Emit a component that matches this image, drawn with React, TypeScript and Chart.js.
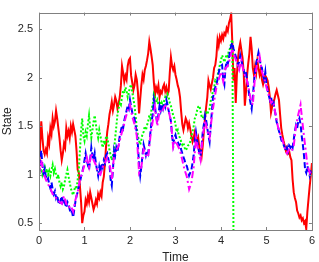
import React, { useEffect, useRef } from "react";
import { Chart, registerables } from "chart.js";

Chart.register(...registerables);

// time grids (fine grid for red/blue/green, coarse grid for magenta)
const FINE_STEP = 0.025;
const COARSE_STEP = 0.05;

const RED = [
  1.00, 1.30, 1.55, 1.38, 1.25, 1.21, 1.26, 1.22, 1.38, 1.32, 1.48, 1.42, 1.58, 1.50, 1.55, 1.66, 1.58, 1.48, 1.38, 1.25,
  1.15, 1.22, 1.32, 1.28, 1.48, 1.40, 1.45, 1.38, 1.50, 1.44, 1.52, 1.46, 1.40, 1.25, 1.05, 1.02, 0.88, 0.72, 0.50, 0.58,
  0.62, 0.74, 0.70, 0.78, 0.72, 0.82, 0.76, 0.70, 0.64, 0.68, 0.74, 0.70, 0.80, 0.76, 0.82, 0.78, 0.92, 0.98, 1.12, 1.30,
  1.44, 1.52, 1.62, 1.68, 1.75, 1.66, 1.72, 1.80, 1.76, 1.68, 1.73, 1.80, 1.92, 2.12, 2.05, 1.96, 2.02, 1.98, 2.12, 2.18,
  2.20, 2.02, 1.95, 1.87, 1.92, 2.03, 1.98, 1.85, 1.63, 1.78, 1.92, 2.03, 1.98, 2.08, 2.12, 2.18, 2.25, 2.37, 2.30, 2.22,
  2.13, 1.95, 1.82, 1.90, 1.86, 1.92, 1.80, 1.86, 1.84, 1.90, 1.93, 1.86, 1.90, 1.83, 1.86, 2.05, 2.21, 2.12, 2.08, 2.12,
  2.03, 1.98, 1.92, 1.88, 1.80, 1.65, 1.52, 1.46, 1.52, 1.58, 1.55, 1.48, 1.53, 1.47, 1.40, 1.34, 1.38, 1.44, 1.40, 1.34,
  1.38, 1.28, 1.25, 1.19, 1.30, 1.45, 1.58, 1.70, 1.80, 1.97, 1.92, 1.88, 1.94, 2.00, 2.10, 2.13, 2.22, 2.39, 2.33, 2.42,
  2.38, 2.44, 2.40, 2.46, 2.44, 2.51, 2.48, 2.56, 2.60, 2.66, 2.36, 1.97, 2.10, 1.74, 2.03, 2.20, 2.30, 2.36, 2.28, 2.20,
  2.05, 1.71, 1.85, 2.03, 2.15, 2.25, 2.42, 2.30, 2.10, 2.03, 2.12, 2.05, 2.17, 2.10, 2.03, 2.08, 1.98, 1.93, 1.98, 2.02,
  2.00, 1.97, 1.90, 1.80, 1.64, 1.70, 1.74, 1.78, 1.83, 1.87, 1.82, 1.77, 1.62, 1.48, 1.41, 1.35, 1.30, 1.25, 1.28, 1.22,
  1.24, 1.18, 1.15, 0.95, 0.82, 0.76, 0.72, 0.63, 0.60, 0.56, 0.58, 0.53, 0.55, 0.50, 0.52, 0.44, 0.62, 0.75, 0.88, 0.99,
  1.12,
];

const BLUE = [
  1.00, 1.12, 1.25, 1.10, 1.02, 1.06, 0.98, 0.94, 0.96, 0.90, 0.86, 0.92, 0.85, 0.80, 0.83, 0.76, 0.79, 0.72, 0.69, 0.74,
  0.78, 0.72, 0.75, 0.70, 0.66, 0.72, 0.70, 0.64, 0.60, 0.62, 0.56, 0.64, 0.72, 0.78, 0.82, 0.88, 0.92, 0.98, 1.02, 1.08,
  1.15, 1.22, 1.15, 1.10, 1.05, 1.16, 1.28, 1.20, 1.15, 1.22, 1.12, 1.05, 0.99, 1.08, 1.02, 1.12, 1.08, 1.15, 1.12, 1.20,
  1.22, 1.16, 1.10, 0.95, 0.89, 1.05, 1.25, 1.20, 1.28, 1.24, 1.31, 1.40, 1.45, 1.51, 1.48, 1.56, 1.61, 1.66, 1.71, 1.68,
  1.77, 1.70, 1.64, 1.60, 1.58, 1.50, 1.44, 1.30, 1.10, 0.99, 1.08, 1.20, 1.31, 1.26, 1.20, 1.25, 1.22, 1.32, 1.44, 1.55,
  1.62, 1.77, 1.70, 1.60, 1.54, 1.62, 1.71, 1.66, 1.72, 1.68, 1.74, 1.70, 1.77, 1.72, 1.66, 1.61, 1.55, 1.40, 1.31, 1.38,
  1.41, 1.36, 1.34, 1.30, 1.31, 1.26, 1.22, 1.18, 1.15, 1.10, 1.09, 1.04, 0.99, 1.02, 1.05, 1.12, 1.20, 1.35, 1.44, 1.36,
  1.28, 1.22, 1.19, 1.30, 1.44, 1.52, 1.61, 1.56, 1.48, 1.40, 1.34, 1.50, 1.65, 1.80, 1.84, 1.90, 1.93, 1.98, 2.05, 2.10,
  2.12, 2.13, 1.98, 1.93, 2.10, 2.17, 2.14, 2.20, 2.28, 2.33, 2.36, 2.30, 2.26, 2.22, 2.18, 2.13, 2.16, 2.23, 2.18, 2.12,
  2.08, 2.03, 2.06, 1.97, 1.90, 1.80, 1.74, 1.68, 1.80, 1.95, 2.07, 2.15, 2.20, 2.26, 2.20, 2.12, 2.10, 2.02, 1.98, 2.06,
  1.93, 1.87, 1.82, 1.77, 1.80, 1.74, 1.77, 1.68, 1.62, 1.54, 1.50, 1.45, 1.41, 1.36, 1.33, 1.31, 1.28, 1.25, 1.28, 1.24,
  1.30, 1.28, 1.31, 1.28, 1.36, 1.45, 1.51, 1.48, 1.55, 1.58, 1.52, 1.40, 1.31, 1.20, 1.05, 1.02, 1.09, 1.04, 0.99, 1.05,
  1.02,
];

const GREEN = [
  1.00, 1.04, 1.06, 1.00, 1.04, 1.08, 1.02, 1.06, 1.00, 1.04, 0.99, 1.05, 1.10, 1.02, 1.06, 1.00, 0.96, 1.00, 0.92, 0.88,
  0.92, 0.85, 0.88, 0.95, 1.00, 1.05, 0.98, 0.92, 0.86, 0.82, 0.79, 0.84, 0.88, 0.85, 0.95, 1.05, 1.25, 1.45, 1.58, 1.40,
  1.35, 1.44, 1.40, 1.52, 1.61, 1.48, 1.38, 1.46, 1.55, 1.61, 1.52, 1.44, 1.38, 1.46, 1.40, 1.33, 1.28, 1.35, 1.31, 1.40,
  1.38, 1.32, 1.25, 1.20, 1.15, 1.20, 1.25, 1.38, 1.50, 1.62, 1.68, 1.74, 1.72, 1.80, 1.87, 1.84, 1.90, 1.86, 1.80, 1.85,
  1.90, 1.93, 1.85, 1.78, 1.71, 1.60, 1.48, 1.40, 1.35, 1.31, 1.36, 1.42, 1.44, 1.50, 1.46, 1.51, 1.55, 1.61, 1.58, 1.68,
  1.72, 1.83, 1.80, 1.74, 1.77, 1.72, 1.76, 1.70, 1.74, 1.71, 1.76, 1.80, 1.78, 1.83, 1.80, 1.74, 1.71, 1.66, 1.61, 1.58,
  1.52, 1.44, 1.46, 1.40, 1.38, 1.34, 1.31, 1.33, 1.28, 1.25, 1.27, 1.30, 1.31, 1.34, 1.40, 1.44, 1.50, 1.58, 1.61, 1.66,
  1.70, 1.71, 1.66, 1.60, 1.58, 1.62, 1.61, 1.64, 1.62, 1.66, 1.68, 1.76, 1.80, 1.87, 1.90, 1.97, 1.95, 2.02, 2.08, 2.13,
  2.18, 2.23, 2.20, 2.16, 2.20, 2.24, 2.22, 2.28, 2.30, 2.36, 2.39,
];
const GREEN_END_TIME = 4.28;
const GREEN_END_VALUE = 0;

const MAGENTA = [
  1.00, 1.15, 1.02, 0.95, 0.90, 0.86, 0.80, 0.78, 0.74, 0.72, 0.70, 0.78, 0.70, 0.66, 0.68, 0.62, 0.74, 0.82, 0.95, 1.02,
  1.10, 1.18, 1.08, 1.22, 1.15, 1.10, 1.02, 1.00, 1.08, 1.12, 1.18, 1.12, 0.95, 1.20, 1.25, 1.30, 1.40, 1.48, 1.58, 1.66,
  1.72, 1.60, 1.52, 1.40, 1.02, 1.08, 1.26, 1.20, 1.18, 1.40, 1.55, 1.70, 1.50, 1.66, 1.64, 1.70, 1.72, 1.66, 1.55, 1.28,
  1.35, 1.30, 1.25, 1.15, 1.05, 0.98, 0.85, 0.92, 1.08, 1.38, 1.25, 1.15, 1.40, 1.56, 1.45, 1.38, 1.60, 1.76, 1.90, 1.98,
  2.06, 1.96, 2.10, 2.12, 2.20, 2.30, 2.22, 2.15, 2.08, 2.18, 2.05, 2.00, 1.92, 1.78, 1.72, 2.02, 2.15, 2.22, 2.06, 2.00,
  1.90, 1.82, 1.74, 1.76, 1.62, 1.50, 1.42, 1.36, 1.28, 1.22, 1.26, 1.24, 1.30, 1.50, 1.62, 1.72, 1.50, 1.30, 1.10, 1.02,
  1.05,
];

const X_TICKS = [0, 1, 2, 3, 4, 5, 6];
const Y_TICKS = [0.5, 1, 1.5, 2, 2.5];
const X_MIN = 0;
const X_MAX = 6;
const Y_MIN = 0.43;
const Y_MAX = 2.67;

const AXIS_COLOR = "#808080";
const TEXT_COLOR = "#262626";
const FONT = "'Liberation Sans', Arial, sans-serif";

const toPoints = (step: number, v: number[]) => v.map((y, i) => ({ x: +(i * step).toFixed(3), y }));

const boxPlugin = {
  id: "matlabBox",
  afterDatasetsDraw(chart: any) {
    const { ctx, chartArea, scales } = chart;
    const { left, right, top, bottom } = chartArea;
    ctx.save();
    ctx.strokeStyle = AXIS_COLOR;
    ctx.lineWidth = 1;
    ctx.beginPath();
    const L = 3;
    X_TICKS.forEach((v) => {
      const px = Math.round(scales.x.getPixelForValue(v)) + 0.5;
      ctx.moveTo(px, bottom);
      ctx.lineTo(px, bottom - L);
      ctx.moveTo(px, top);
      ctx.lineTo(px, top + L);
    });
    Y_TICKS.forEach((v) => {
      const py = Math.round(scales.y.getPixelForValue(v)) + 0.5;
      ctx.moveTo(left, py);
      ctx.lineTo(left + L, py);
      ctx.moveTo(right, py);
      ctx.lineTo(right - L, py);
    });
    ctx.stroke();
    ctx.strokeRect(Math.round(left) + 0.5, Math.round(top) + 0.5, Math.round(right - left), Math.round(bottom - top));
    ctx.restore();
  },
};

export default function App() {
  const ref = useRef<HTMLCanvasElement>(null);
  useEffect(() => {
    if (!ref.current) return;
    const common = { pointRadius: 0, borderWidth: 2, tension: 0, fill: false };
    const chart = new Chart(ref.current, {
      type: "line",
      data: {
        datasets: [
          { ...common, label: "m", data: toPoints(COARSE_STEP, MAGENTA), borderColor: "#ff00ff", borderDash: [7, 3, 2, 3] },
          { ...common, label: "b", data: toPoints(FINE_STEP, BLUE), borderColor: "#0000ff", borderDash: [6, 3] },
          {
            ...common,
            label: "g",
            data: [...toPoints(FINE_STEP, GREEN), { x: GREEN_END_TIME, y: GREEN_END_VALUE }],
            borderColor: "#00ff00",
            borderDash: [2, 2],
          },
          { ...common, label: "r", data: toPoints(FINE_STEP, RED), borderColor: "#ff0000" },
        ],
      },
      options: {
        animation: false,
        responsive: false,
        maintainAspectRatio: false,
        layout: { padding: { top: 1, right: 4, left: 0, bottom: 0 } },
        plugins: { legend: { display: false }, tooltip: { enabled: false } },
        scales: {
          x: {
            type: "linear",
            min: X_MIN,
            max: X_MAX,
            grid: { display: false, drawTicks: false },
            border: { display: false },
            afterBuildTicks: (s: any) => {
              s.ticks = X_TICKS.map((v) => ({ value: v }));
            },
            afterFit: (s: any) => {
              s.height = 32;
            },
            ticks: {
              padding: 4,
              maxRotation: 0,
              color: TEXT_COLOR,
              font: { family: FONT, size: 11 },
              callback: (v: any) => String(v),
            },
            title: {
              display: true,
              text: "Time",
              color: TEXT_COLOR,
              font: { family: FONT, size: 12 },
              padding: { top: 0, bottom: -3 },
            },
          },
          y: {
            type: "linear",
            min: Y_MIN,
            max: Y_MAX,
            grid: { display: false, drawTicks: false },
            border: { display: false },
            afterBuildTicks: (s: any) => {
              s.ticks = Y_TICKS.map((v) => ({ value: v }));
            },
            afterFit: (s: any) => {
              s.width = 39;
            },
            ticks: {
              padding: 6,
              color: TEXT_COLOR,
              font: { family: FONT, size: 11 },
              callback: (v: any) => String(v),
            },
            title: {
              display: true,
              text: "State",
              color: TEXT_COLOR,
              font: { family: FONT, size: 12 },
              padding: 0,
            },
          },
        },
      },
      plugins: [boxPlugin],
    });
    return () => chart.destroy();
  }, []);
  return (
    <div style={{ position: "absolute", left: 0, top: 0, width: 319, height: 262 }}>
      <canvas ref={ref} width={319} height={262} style={{ width: 319, height: 262, display: "block" }} />
    </div>
  );
}
